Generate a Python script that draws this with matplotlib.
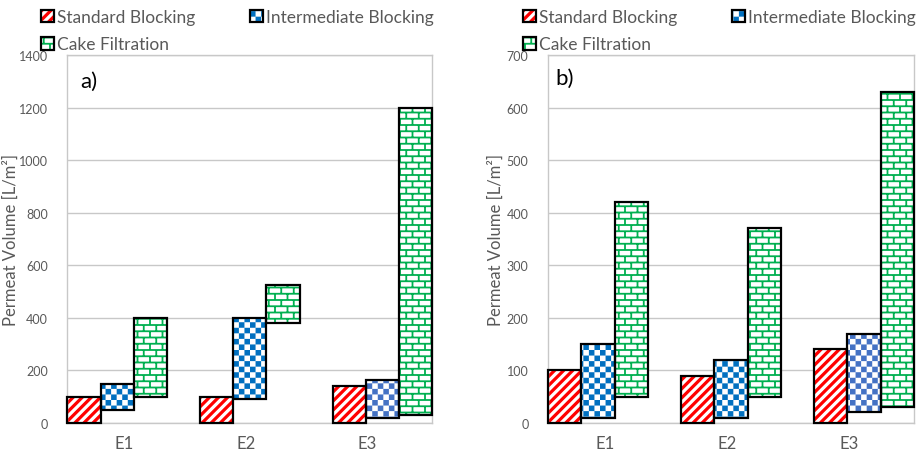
import numpy as np
import matplotlib
matplotlib.use('Agg')
import matplotlib.pyplot as plt
import matplotlib.hatch as mhatch
from matplotlib.path import Path
from matplotlib.patches import Patch

categories = ['E1', 'E2', 'E3']
series = ['Standard Blocking', 'Intermediate Blocking', 'Cake Filtration']

# panel a) - floating bars, low / high end of each range
a_std_low = [0, 0, 0]
a_std_high = [100, 100, 140]
a_int_low = [50, 90, 20]
a_int_high = [150, 400, 165]
a_cake_low = [100, 380, 30]
a_cake_high = [400, 525, 1200]

# panel b)
b_std_low = [0, 0, 0]
b_std_high = [100, 90, 140]
b_int_low = [10, 10, 20]
b_int_high = [150, 120, 170]
b_cake_low = [50, 50, 30]
b_cake_high = [420, 370, 630]

red = '#ff0000'
blue = '#0070c0'
blue2 = '#4472c4'
green = '#00b050'
grey_txt = '#595959'
grey_line = '#c8c8c8'

plt.rcParams['font.family'] = ['Lato', 'DejaVu Sans']
plt.rcParams['hatch.linewidth'] = 0.0


# Excel-like fill patterns as filled hatch tiles (unit cell = 1 inch)
class TileHatch:
    char = ''

    def __init__(self, hatch, density):
        self.polys = self.make() if hatch.count(self.char) else []
        self.num_vertices = 5 * len(self.polys)

    def set_vertices_and_codes(self, vertices, codes):
        for i, p in enumerate(self.polys):
            vertices[5 * i:5 * i + 4] = p
            vertices[5 * i + 4] = p[0]
            codes[5 * i] = Path.MOVETO
            codes[5 * i + 1:5 * i + 4] = Path.LINETO
            codes[5 * i + 4] = Path.CLOSEPOLY


class Stripes(TileHatch):
    char = '/'

    def make(self):
        n = 11
        w = 0.5 / n
        return [[(0, k / n), (1, k / n + 1), (1, k / n + 1 + w), (0, k / n + w)]
                for k in range(-n - 1, n + 1)]


class Checker(TileHatch):
    char = 'o'

    def make(self):
        n = 18
        s = 1 / n
        return [[(i * s, j * s), ((i + 1) * s, j * s), ((i + 1) * s, (j + 1) * s), (i * s, (j + 1) * s)]
                for i in range(n) for j in range(n) if (i + j) % 2 == 0]


class Bricks(TileHatch):
    char = '+'

    def make(self):
        rows, cols, t = 16, 8, 0.018
        polys = []
        for r in range(rows + 1):
            y = r / rows
            polys.append([(0, y - t / 2), (1, y - t / 2), (1, y + t / 2), (0, y + t / 2)])
        for r in range(rows):
            y = r / rows
            for c in range(cols + 1):
                x = (c + 0.5 * (r % 2)) / cols
                polys.append([(x - t / 2, y), (x + t / 2, y), (x + t / 2, y + 1 / rows), (x - t / 2, y + 1 / rows)])
        return polys


mhatch._hatch_types = [Stripes, Checker, Bricks]

fig = plt.figure(figsize=(9.17, 4.52), dpi=100)
ax_a = fig.add_axes([0.0735, 0.062, 0.398, 0.814])
ax_b = fig.add_axes([0.5976, 0.062, 0.399, 0.814])


def draw_panel(ax, lows, highs, colors, hatches, ymax, ystep, tag, tag_x, tag_y, ylab_x):
    x = np.arange(len(categories))
    w = 0.25
    for i in range(3):
        low = np.array(lows[i])
        high = np.array(highs[i])
        pos = x + (i - 1) * w
        ax.bar(pos, high - low, w, bottom=low, color='white', edgecolor=colors[i],
               hatch=hatches[i], linewidth=0, zorder=2)
        ax.bar(pos, high - low, w, bottom=low, fill=False, edgecolor='black',
               linewidth=1.6, zorder=3, clip_on=False)
    x0, x1 = -0.375, 2.375
    ax.set_xlim(x0, x1)
    ax.set_ylim(0, ymax)
    ax.set_yticks(np.arange(0, ymax + 1, ystep))
    # category labels sit in the middle of equal slots of the axis, like Excel
    slot = (x1 - x0) / len(categories)
    ax.set_xticks(x0 + slot * (np.arange(len(categories)) + 0.5) - 0.03)
    ax.set_xticklabels(categories)
    ax.tick_params(axis='y', length=0, pad=14, labelsize=9, labelcolor=grey_txt)
    ax.tick_params(axis='x', length=0, pad=9, labelsize=12, labelcolor=grey_txt)
    ax.grid(axis='y', color=grey_line, linewidth=1)
    ax.set_axisbelow(True)
    for s in ax.spines.values():
        s.set_color(grey_line)
        s.set_linewidth(1)
    ax.set_ylabel('Permeat Volume [L/m²]', fontsize=12, color=grey_txt)
    ax.yaxis.set_label_coords(ylab_x, 0.5)
    ax.text(tag_x, tag_y, tag, transform=ax.transAxes, fontsize=16, va='center', ha='left')


hatches = ['/', 'o', '+']
col_a = [red, [blue, blue, blue2], green]

draw_panel(ax_a, [a_std_low, a_int_low, a_cake_low], [a_std_high, a_int_high, a_cake_high],
           col_a, hatches, 1400, 200, 'a)', 0.035, 0.93, -0.133)
draw_panel(ax_b, [b_std_low, b_int_low, b_cake_low], [b_std_high, b_int_high, b_cake_high],
           col_a, hatches, 700, 100, 'b)', 0.02, 0.937, -0.12)


def make_legend(ax, x0):
    handles = []
    for c, h in zip([red, blue, green], hatches):
        handles.append((Patch(facecolor='white', edgecolor=c, hatch=h, linewidth=0),
                        Patch(fill=False, edgecolor='black', linewidth=1.6)))
    order = [0, 2, 1]
    ax.legend([handles[i] for i in order], [series[i] for i in order], ncol=2,
              loc='upper left', bbox_to_anchor=(x0, 0.978), bbox_transform=fig.transFigure,
              frameon=False, borderpad=0, borderaxespad=0, handlelength=0.75, handleheight=0.75,
              handletextpad=0.2, columnspacing=3.1, labelspacing=0.65,
              fontsize=12.5, labelcolor=grey_txt)


make_legend(ax_a, 41 / 917)
make_legend(ax_b, 523 / 917)

fig.savefig('out.png', dpi=100)
